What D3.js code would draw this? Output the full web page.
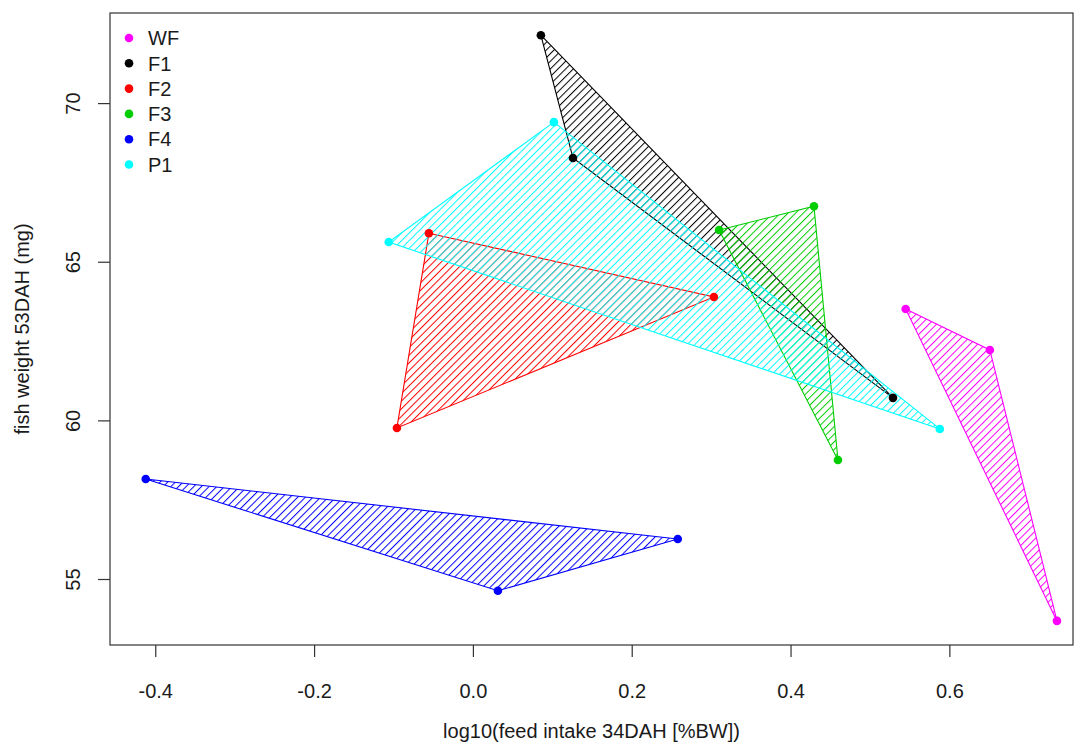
<!DOCTYPE html>
<html>
<head>
<meta charset="utf-8">
<script src="https://cdn.jsdelivr.net/npm/d3@7/dist/d3.min.js"></script>
<style>
  html, body { margin: 0; padding: 0; background: #fff; }
  svg text { font-family: "Liberation Sans", Arial, sans-serif; fill: #1a1a1a; }
</style>
</head>
<body>
<svg id="chart" width="1087" height="747"></svg>
<script>
// ---- data ----
const groups = ["WF", "F1", "F2", "F3", "F4", "P1"];
const groupColors = ["#ff00ff", "#000000", "#ff0000", "#00cd00", "#0000ff", "#00ffff"];

const wfX = [0.545, 0.651, 0.7355];
const wfY = [63.51, 62.22, 53.68];
const f1X = [0.0856, 0.126, 0.529];
const f1Y = [72.14, 68.27, 60.71];
const f2X = [-0.0554, 0.3035, -0.0957];
const f2Y = [65.90, 63.89, 59.76];
const f3X = [0.310, 0.4295, 0.4597];
const f3Y = [66.00, 66.75, 58.75];
const f4X = [-0.412, 0.258, 0.0315];
const f4Y = [58.15, 56.26, 54.63];
const p1X = [0.102, 0.588, -0.106];
const p1Y = [69.40, 59.73, 65.62];

const xTicks = [-0.4, -0.2, 0.0, 0.2, 0.4, 0.6];
const xTickLabels = ["-0.4", "-0.2", "0.0", "0.2", "0.4", "0.6"];
const yTicks = [55, 60, 65, 70];
const yTickLabels = ["55", "60", "65", "70"];

const xTitle = "log10(feed intake 34DAH [%BW])";
const yTitle = "fish weight 53DAH (mg)";

const xValues = [wfX, f1X, f2X, f3X, f4X, p1X];
const yValues = [wfY, f1Y, f2Y, f3Y, f4Y, p1Y];

// ---- layout ----
const plot = { left: 110, right: 1073, top: 13, bottom: 645 };
const svg = d3.select("#chart");

const x = d3.scaleLinear().domain([-0.457, 0.7557]).range([plot.left, plot.right]);
const y = d3.scaleLinear().domain([52.92, 72.84]).range([plot.bottom, plot.top]);

const series = groups.map((g, i) => ({
  name: g,
  color: groupColors[i],
  pts: xValues[i].map((xv, j) => [xv, yValues[i][j]])
}));

// hatch patterns
const defs = svg.append("defs");
series.forEach((s, i) => {
  const p = defs.append("pattern")
    .attr("id", "hatch" + i)
    .attr("patternUnits", "userSpaceOnUse")
    .attr("width", 5.4)
    .attr("height", 10)
    .attr("patternTransform", "rotate(45)");
  p.append("line")
    .attr("x1", 0.5).attr("y1", 0)
    .attr("x2", 0.5).attr("y2", 10)
    .attr("stroke", s.color)
    .attr("stroke-width", 1);
});

defs.append("clipPath").attr("id", "plotclip")
  .append("rect")
  .attr("x", plot.left).attr("y", plot.top)
  .attr("width", plot.right - plot.left).attr("height", plot.bottom - plot.top);

const gPlot = svg.append("g").attr("clip-path", "url(#plotclip)");

const line = d3.line().x(d => x(d[0])).y(d => y(d[1])).curve(d3.curveLinearClosed);

series.forEach((s, i) => {
  gPlot.append("path")
    .attr("d", line(s.pts))
    .attr("fill", "url(#hatch" + i + ")")
    .attr("stroke", s.color)
    .attr("stroke-width", 1.1);
});

series.forEach(s => {
  gPlot.selectAll(null).data(s.pts).enter().append("circle")
    .attr("cx", d => x(d[0]))
    .attr("cy", d => y(d[1]))
    .attr("r", 4.3)
    .attr("fill", s.color);
});

// box
svg.append("rect")
  .attr("x", plot.left).attr("y", plot.top)
  .attr("width", plot.right - plot.left).attr("height", plot.bottom - plot.top)
  .attr("fill", "none").attr("stroke", "#333").attr("stroke-width", 1.2);

// x axis
const xAxis = d3.axisBottom(x).tickValues(xTicks)
  .tickFormat((d, i) => xTickLabels[i]).tickSize(12).tickPadding(26);
const gx = svg.append("g").attr("transform", `translate(0,${plot.bottom})`).call(xAxis);
gx.select(".domain").remove();
gx.selectAll(".tick line").attr("stroke", "#333").attr("stroke-width", 1.2);
gx.selectAll(".tick text").attr("font-size", 20).attr("font-family", "Liberation Sans, Arial, sans-serif").attr("fill", "#1a1a1a").attr("dy", null).attr("y", null)
  .attr("transform", "translate(0,53)").attr("dominant-baseline", "auto");

// y axis
const yAxis = d3.axisLeft(y).tickValues(yTicks)
  .tickFormat((d, i) => yTickLabels[i]).tickSize(12);
const gy = svg.append("g").attr("transform", `translate(${plot.left},0)`).call(yAxis);
gy.select(".domain").remove();
gy.selectAll(".tick line").attr("stroke", "#333").attr("stroke-width", 1.2);
gy.selectAll(".tick text")
  .attr("font-size", 20).attr("font-family", "Liberation Sans, Arial, sans-serif").attr("fill", "#1a1a1a")
  .attr("x", null).attr("dy", null)
  .attr("text-anchor", "middle")
  .attr("transform", "translate(-30,0) rotate(-90)");

// titles
svg.append("text")
  .attr("x", (plot.left + plot.right) / 2).attr("y", 738)
  .attr("text-anchor", "middle").attr("font-size", 20)
  .text(xTitle);
svg.append("text")
  .attr("transform", `translate(29,${(plot.top + plot.bottom) / 2}) rotate(-90)`)
  .attr("text-anchor", "middle").attr("font-size", 20)
  .text(yTitle);

// legend
const legend = svg.append("g");
series.forEach((s, i) => {
  const ly = 38 + i * 25.3;
  legend.append("circle").attr("cx", 129).attr("cy", ly).attr("r", 4.3).attr("fill", s.color);
  legend.append("text").attr("x", 148).attr("y", ly).attr("dy", "0.36em")
    .attr("font-size", 20).text(s.name);
});
</script>
</body>
</html>
